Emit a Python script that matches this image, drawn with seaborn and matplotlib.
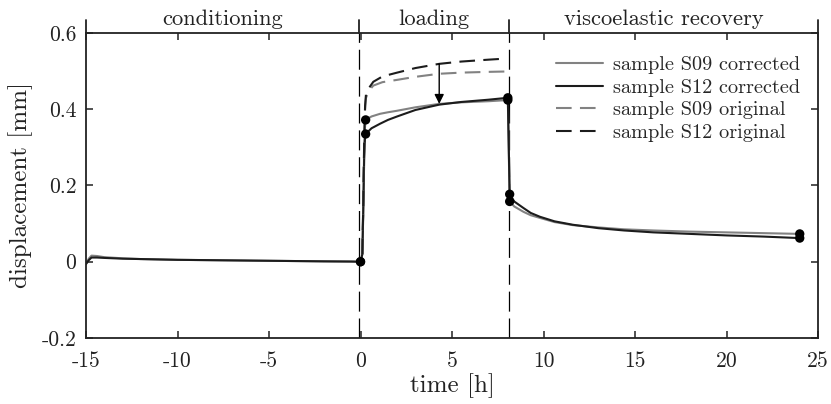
import numpy as np
import pandas as pd
import matplotlib
matplotlib.use('Agg')
import matplotlib.pyplot as plt
import seaborn as sns

sns.set_theme(style='ticks')
plt.rcParams['font.family'] = ['cmr10', 'DejaVu Serif']
plt.rcParams['axes.formatter.use_mathtext'] = True
plt.rcParams['axes.unicode_minus'] = False

# time [h]: conditioning, loading, recovery
t_cond = [-15, -14.85, -14.7, -14.4, -14, -13, -12, -11, -10, -8, -6, -4, -2, -0.5, 0.0]
t_load = [0.1, 0.15, 0.2, 0.24, 0.28, 0.6, 1.07, 1.5, 2.0, 3, 4.3, 5.5, 7, 8.05]
t_rec = [8.15, 8.4, 8.9, 9.3, 9.8, 10.6, 11.6, 13, 14.4, 16, 18, 20, 22, 24]
time = t_cond + t_load + t_rec

s09_corr = ([-0.006, 0.008, 0.016, 0.015, 0.012, 0.009, 0.007, 0.006, 0.005, 0.004, 0.003, 0.002, 0.001, 0.0005, 0.0]
            + [0.02, 0.15, 0.30, 0.35, 0.372, 0.381, 0.388, 0.392, 0.396, 0.405, 0.414, 0.418, 0.421, 0.424]
            + [0.158, 0.145, 0.131, 0.122, 0.115, 0.104, 0.096, 0.090, 0.085, 0.082, 0.079, 0.077, 0.075, 0.073])
s12_corr = ([-0.006, 0.004, 0.011, 0.011, 0.010, 0.008, 0.007, 0.006, 0.005, 0.004, 0.003, 0.002, 0.001, 0.0005, 0.0]
            + [0.02, 0.13, 0.27, 0.32, 0.335, 0.350, 0.362, 0.372, 0.381, 0.398, 0.412, 0.419, 0.425, 0.430]
            + [0.177, 0.158, 0.141, 0.128, 0.118, 0.106, 0.097, 0.088, 0.082, 0.077, 0.073, 0.069, 0.066, 0.062])

# original (uncorrected) data, loading phase only
t_orig = [0.1, 0.15, 0.2, 0.25, 0.3, 0.45, 0.7, 1.2, 2.0, 3, 4.3, 5.5, 7, 8.0]
s09_orig = [0.02, 0.15, 0.30, 0.40, 0.43, 0.448, 0.462, 0.471, 0.477, 0.485, 0.493, 0.496, 0.498, 0.499]
s12_orig = [0.02, 0.15, 0.32, 0.41, 0.44, 0.455, 0.472, 0.486, 0.496, 0.508, 0.519, 0.525, 0.530, 0.533]

marker_times = [0.0, 0.28, 8.05, 8.15, 24]
arrow_time = 4.3

phase_bounds = [-15, -0.1, 8.1, 25]
phase_names = ['conditioning', 'loading', 'viscoelastic recovery']

xticks = [-15, -10, -5, 0, 5, 10, 15, 20, 25]
yticks = [-0.2, 0, 0.2, 0.4, 0.6]
ytick_labels = ['-0.2', '0', '0.2', '0.4', '0.6']

gray = '#828282'
dark = '#1c1c1c'
ink = '#222222'

df = pd.DataFrame({'time': time, 'S09': s09_corr, 'S12': s12_corr})
df_orig = pd.DataFrame({'time': t_orig, 'S09': s09_orig, 'S12': s12_orig})

fig = plt.figure(figsize=(8.31, 4.04), dpi=100)
ax = fig.add_axes([0.1035, 0.1634, 0.8809, 0.755])

sns.lineplot(data=df, x='time', y='S09', color=gray, lw=1.5, estimator=None,
             label='sample S09 corrected', ax=ax)
sns.lineplot(data=df, x='time', y='S12', color=dark, lw=1.5, estimator=None,
             label='sample S12 corrected', ax=ax)
sns.lineplot(data=df_orig, x='time', y='S09', color=gray, lw=1.5, estimator=None,
             label='sample S09 original', ax=ax)
sns.lineplot(data=df_orig, x='time', y='S12', color=dark, lw=1.5, estimator=None,
             label='sample S12 original', ax=ax)
ax.lines[2].set_dashes([7.5, 4])
ax.lines[3].set_dashes([7.5, 4])

# markers at phase transitions
mk = df[np.isin(df['time'], marker_times)]
sns.scatterplot(x=np.r_[mk['time'], mk['time']], y=np.r_[mk['S09'], mk['S12']],
                color='black', s=45, zorder=5, edgecolor='none', legend=False, ax=ax)

# arrow: original -> corrected
y_top = np.interp(arrow_time, t_orig, s12_orig)
y_bot = np.interp(arrow_time, time, s09_corr)
ax.annotate('', xy=(arrow_time, y_bot), xytext=(arrow_time, y_top),
            arrowprops=dict(arrowstyle='-|>', color='black', lw=1.0, mutation_scale=14,
                            shrinkA=0, shrinkB=0))

# phase separators and header
trans = ax.get_xaxis_transform()
for b in phase_bounds[1:-1]:
    ax.axvline(b, color='black', lw=0.9, dashes=[16, 5.5], zorder=1)
for b in phase_bounds:
    ax.plot([b, b], [1, 1.043], color=ink, lw=1.3, transform=trans, clip_on=False)
for i, name in enumerate(phase_names):
    mid = (phase_bounds[i] + phase_bounds[i + 1]) / 2
    ax.text(mid, 1.046, name, transform=trans, ha='center', va='center',
            fontsize=16.2, color=ink)

ax.set_xlim(-15, 25)
ax.set_ylim(-0.2, 0.6)
ax.set_xticks(xticks, [str(v) for v in xticks])
ax.set_yticks(yticks, ytick_labels)
ax.tick_params(direction='in', top=True, right=True, length=5, width=1.1,
               labelsize=15.5, colors=ink)
ax.tick_params(axis='x', pad=10)
ax.tick_params(axis='y', pad=7)
for s in ax.spines.values():
    s.set_visible(True)
    s.set_linewidth(1.3)
    s.set_color(ink)
ax.set_xlabel('time [h]', fontsize=18, color=ink, labelpad=1)
ax.set_ylabel('displacement [mm]', fontsize=18, color=ink, labelpad=6)

ax.legend(loc='upper right', frameon=False, fontsize=14.6, handlelength=2.3,
          handletextpad=0.5, labelspacing=0.22, borderaxespad=0.5,
          bbox_to_anchor=(1.0, 0.985))

fig.savefig('out.png', dpi=100)
